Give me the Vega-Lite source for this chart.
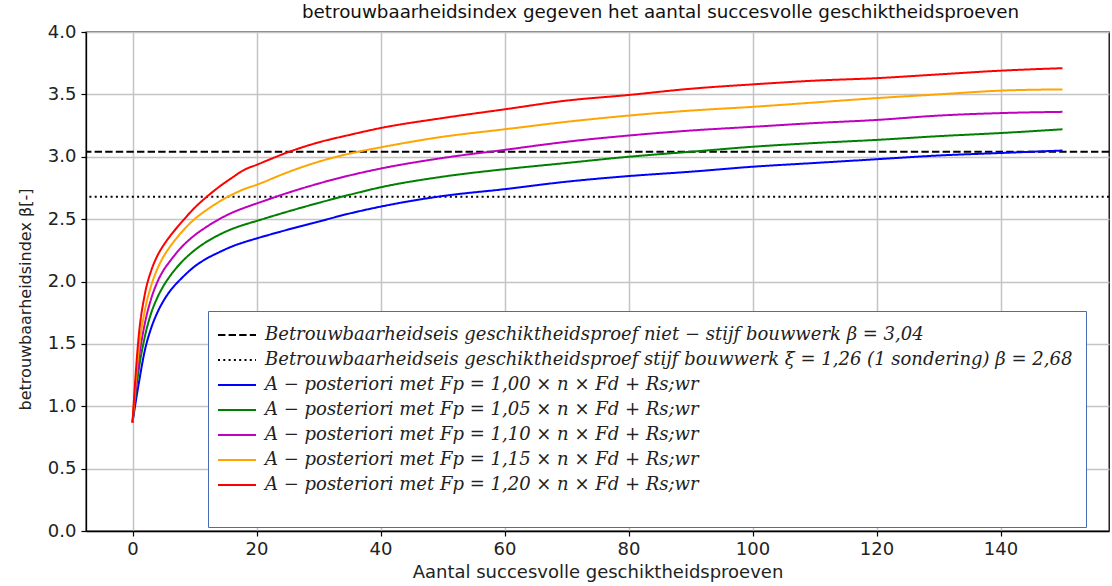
{
  "$schema": "https://vega.github.io/schema/vega-lite/v6.json",
  "width": 1023,
  "height": 499,
  "autosize": {"type": "none"},
  "padding": {"left": 86, "top": 32, "right": 3, "bottom": 55},
  "background": "white",
  "title": {
    "text": "betrouwbaarheidsindex gegeven het aantal succesvolle geschiktheidsproeven",
    "font": "DejaVu Sans",
    "fontSize": 18.3,
    "fontWeight": "normal",
    "color": "#111111",
    "anchor": "start",
    "frame": "group",
    "dx": 216,
    "offset": 1
  },
  "config": {
    "view": {"stroke": "#000000", "strokeWidth": 1.3},
    "axis": {
      "labelFont": "DejaVu Sans",
      "labelFontSize": 18,
      "labelColor": "#222222",
      "titleFont": "DejaVu Sans",
      "titleFontSize": 18,
      "titleFontWeight": "normal",
      "titleColor": "#222222",
      "domainColor": "#000000",
      "domainWidth": 1.3,
      "tickColor": "#000000",
      "tickWidth": 1.2,
      "tickSize": 5,
      "gridColor": "#c4c4c4",
      "gridWidth": 1.5
    }
  },
  "datasets": {
    "curves": [
      {"f": "1,00", "n": 0, "b": 0.87}, {"f": "1,00", "n": 1, "b": 1.18}, {"f": "1,00", "n": 2, "b": 1.45}, {"f": "1,00", "n": 3, "b": 1.625}, {"f": "1,00", "n": 4, "b": 1.75}, {"f": "1,00", "n": 5, "b": 1.845}, {"f": "1,00", "n": 6, "b": 1.92}, {"f": "1,00", "n": 8, "b": 2.03}, {"f": "1,00", "n": 10, "b": 2.12}, {"f": "1,00", "n": 12, "b": 2.185}, {"f": "1,00", "n": 14, "b": 2.235}, {"f": "1,00", "n": 16, "b": 2.28}, {"f": "1,00", "n": 18, "b": 2.315}, {"f": "1,00", "n": 20, "b": 2.345}, {"f": "1,00", "n": 25, "b": 2.415}, {"f": "1,00", "n": 30, "b": 2.48}, {"f": "1,00", "n": 35, "b": 2.545}, {"f": "1,00", "n": 40, "b": 2.6}, {"f": "1,00", "n": 50, "b": 2.685}, {"f": "1,00", "n": 60, "b": 2.74}, {"f": "1,00", "n": 70, "b": 2.8}, {"f": "1,00", "n": 80, "b": 2.845}, {"f": "1,00", "n": 90, "b": 2.88}, {"f": "1,00", "n": 100, "b": 2.92}, {"f": "1,00", "n": 110, "b": 2.95}, {"f": "1,00", "n": 120, "b": 2.98}, {"f": "1,00", "n": 130, "b": 3.01}, {"f": "1,00", "n": 140, "b": 3.03}, {"f": "1,00", "n": 150, "b": 3.05},
      {"f": "1,05", "n": 0, "b": 0.87}, {"f": "1,05", "n": 1, "b": 1.29}, {"f": "1,05", "n": 2, "b": 1.56}, {"f": "1,05", "n": 3, "b": 1.745}, {"f": "1,05", "n": 4, "b": 1.87}, {"f": "1,05", "n": 5, "b": 1.965}, {"f": "1,05", "n": 6, "b": 2.04}, {"f": "1,05", "n": 8, "b": 2.16}, {"f": "1,05", "n": 10, "b": 2.25}, {"f": "1,05", "n": 12, "b": 2.32}, {"f": "1,05", "n": 14, "b": 2.375}, {"f": "1,05", "n": 16, "b": 2.42}, {"f": "1,05", "n": 18, "b": 2.455}, {"f": "1,05", "n": 20, "b": 2.485}, {"f": "1,05", "n": 25, "b": 2.56}, {"f": "1,05", "n": 30, "b": 2.63}, {"f": "1,05", "n": 35, "b": 2.695}, {"f": "1,05", "n": 40, "b": 2.755}, {"f": "1,05", "n": 50, "b": 2.84}, {"f": "1,05", "n": 60, "b": 2.9}, {"f": "1,05", "n": 70, "b": 2.95}, {"f": "1,05", "n": 80, "b": 3.0}, {"f": "1,05", "n": 90, "b": 3.04}, {"f": "1,05", "n": 100, "b": 3.08}, {"f": "1,05", "n": 110, "b": 3.11}, {"f": "1,05", "n": 120, "b": 3.135}, {"f": "1,05", "n": 130, "b": 3.165}, {"f": "1,05", "n": 140, "b": 3.19}, {"f": "1,05", "n": 150, "b": 3.22},
      {"f": "1,10", "n": 0, "b": 0.87}, {"f": "1,10", "n": 1, "b": 1.37}, {"f": "1,10", "n": 2, "b": 1.665}, {"f": "1,10", "n": 3, "b": 1.86}, {"f": "1,10", "n": 4, "b": 1.995}, {"f": "1,10", "n": 5, "b": 2.09}, {"f": "1,10", "n": 6, "b": 2.16}, {"f": "1,10", "n": 8, "b": 2.28}, {"f": "1,10", "n": 10, "b": 2.37}, {"f": "1,10", "n": 12, "b": 2.44}, {"f": "1,10", "n": 14, "b": 2.5}, {"f": "1,10", "n": 16, "b": 2.55}, {"f": "1,10", "n": 18, "b": 2.59}, {"f": "1,10", "n": 20, "b": 2.625}, {"f": "1,10", "n": 25, "b": 2.71}, {"f": "1,10", "n": 30, "b": 2.785}, {"f": "1,10", "n": 35, "b": 2.85}, {"f": "1,10", "n": 40, "b": 2.905}, {"f": "1,10", "n": 50, "b": 2.99}, {"f": "1,10", "n": 60, "b": 3.055}, {"f": "1,10", "n": 70, "b": 3.12}, {"f": "1,10", "n": 80, "b": 3.17}, {"f": "1,10", "n": 90, "b": 3.21}, {"f": "1,10", "n": 100, "b": 3.24}, {"f": "1,10", "n": 110, "b": 3.27}, {"f": "1,10", "n": 120, "b": 3.295}, {"f": "1,10", "n": 130, "b": 3.33}, {"f": "1,10", "n": 140, "b": 3.35}, {"f": "1,10", "n": 150, "b": 3.36},
      {"f": "1,15", "n": 0, "b": 0.87}, {"f": "1,15", "n": 1, "b": 1.45}, {"f": "1,15", "n": 2, "b": 1.77}, {"f": "1,15", "n": 3, "b": 1.965}, {"f": "1,15", "n": 4, "b": 2.1}, {"f": "1,15", "n": 5, "b": 2.2}, {"f": "1,15", "n": 6, "b": 2.275}, {"f": "1,15", "n": 8, "b": 2.4}, {"f": "1,15", "n": 10, "b": 2.5}, {"f": "1,15", "n": 12, "b": 2.575}, {"f": "1,15", "n": 14, "b": 2.64}, {"f": "1,15", "n": 16, "b": 2.695}, {"f": "1,15", "n": 18, "b": 2.74}, {"f": "1,15", "n": 20, "b": 2.775}, {"f": "1,15", "n": 25, "b": 2.875}, {"f": "1,15", "n": 30, "b": 2.96}, {"f": "1,15", "n": 35, "b": 3.025}, {"f": "1,15", "n": 40, "b": 3.075}, {"f": "1,15", "n": 50, "b": 3.16}, {"f": "1,15", "n": 60, "b": 3.22}, {"f": "1,15", "n": 70, "b": 3.28}, {"f": "1,15", "n": 80, "b": 3.33}, {"f": "1,15", "n": 90, "b": 3.37}, {"f": "1,15", "n": 100, "b": 3.4}, {"f": "1,15", "n": 110, "b": 3.435}, {"f": "1,15", "n": 120, "b": 3.47}, {"f": "1,15", "n": 130, "b": 3.5}, {"f": "1,15", "n": 140, "b": 3.53}, {"f": "1,15", "n": 150, "b": 3.54},
      {"f": "1,20", "n": 0, "b": 0.87}, {"f": "1,20", "n": 1, "b": 1.56}, {"f": "1,20", "n": 2, "b": 1.9}, {"f": "1,20", "n": 3, "b": 2.085}, {"f": "1,20", "n": 4, "b": 2.205}, {"f": "1,20", "n": 5, "b": 2.29}, {"f": "1,20", "n": 6, "b": 2.36}, {"f": "1,20", "n": 8, "b": 2.48}, {"f": "1,20", "n": 10, "b": 2.59}, {"f": "1,20", "n": 12, "b": 2.68}, {"f": "1,20", "n": 14, "b": 2.76}, {"f": "1,20", "n": 16, "b": 2.83}, {"f": "1,20", "n": 18, "b": 2.895}, {"f": "1,20", "n": 20, "b": 2.935}, {"f": "1,20", "n": 25, "b": 3.035}, {"f": "1,20", "n": 30, "b": 3.115}, {"f": "1,20", "n": 35, "b": 3.175}, {"f": "1,20", "n": 40, "b": 3.23}, {"f": "1,20", "n": 50, "b": 3.31}, {"f": "1,20", "n": 60, "b": 3.38}, {"f": "1,20", "n": 70, "b": 3.45}, {"f": "1,20", "n": 80, "b": 3.495}, {"f": "1,20", "n": 90, "b": 3.545}, {"f": "1,20", "n": 100, "b": 3.58}, {"f": "1,20", "n": 110, "b": 3.61}, {"f": "1,20", "n": 120, "b": 3.63}, {"f": "1,20", "n": 130, "b": 3.66}, {"f": "1,20", "n": 140, "b": 3.69}, {"f": "1,20", "n": 150, "b": 3.71}
    ],
    "eisen": [
      {"f": "eis1", "b": 3.04},
      {"f": "eis2", "b": 2.68}
    ]
  },
  "encoding": {
    "color": {
      "field": "f",
      "type": "nominal",
      "scale": {
        "domain": ["eis1", "eis2", "1,00", "1,05", "1,10", "1,15", "1,20"],
        "range": ["#000000", "#000000", "#0000ff", "#008000", "#bf00bf", "#ffa500", "#ff0000"]
      },
      "legend": {
        "title": "                                                                                                                                          ",
        "titleOrient": "bottom",
        "titleFont": "DejaVu Sans",
        "titleFontSize": 20,
        "titlePadding": 0,
        "titleLimit": 2000,
        "orient": "none",
        "legendX": 122,
        "legendY": 279,
        "padding": 13,
        "fillColor": "#ffffff",
        "strokeColor": "#4a6cb3",
        "cornerRadius": 0,
        "symbolType": "M-1.4,0H2.4",
        "symbolSize": 400,
        "symbolStrokeWidth": 2,
        "labelOffset": 22,
        "rowPadding": 5,
        "labelFont": "DejaVu Serif",
        "labelFontStyle": "italic",
        "labelFontSize": 18,
        "labelColor": "#222222",
        "labelLimit": 1000,
        "labelExpr": "datum.label == 'eis1' ? 'Betrouwbaarheidseis geschiktheidsproef niet − stijf bouwwerk β = 3,04' : datum.label == 'eis2' ? 'Betrouwbaarheidseis geschiktheidsproef stijf bouwwerk ξ = 1,26 (1 sondering) β = 2,68' : 'A − posteriori met Fp = ' + datum.label + ' × n × Fd + Rs;wr'"
      }
    },
    "strokeDash": {
      "field": "f",
      "type": "nominal",
      "scale": {
        "domain": ["eis1", "eis2", "1,00", "1,05", "1,10", "1,15", "1,20"],
        "range": [[7.4, 3.2], [2, 3.3], [1, 0], [1, 0], [1, 0], [1, 0], [1, 0]]
      },
      "legend": {"title": "                                                                                                                                          "}
    }
  },
  "layer": [
    {
      "data": {"name": "eisen"},
      "mark": {"type": "rule", "strokeWidth": 2},
      "encoding": {
        "y": {"field": "b", "type": "quantitative"}
      }
    },
    {
      "data": {"name": "curves"},
      "mark": {"type": "line", "strokeWidth": 2, "interpolate": "monotone"},
      "encoding": {
        "x": {
          "field": "n",
          "type": "quantitative",
          "title": "Aantal succesvolle geschiktheidsproeven",
          "scale": {"domain": [-7.5, 157.5], "nice": false, "zero": false},
          "axis": {"values": [0, 20, 40, 60, 80, 100, 120, 140], "labelPadding": 4, "titlePadding": 5, "domain": true}
        },
        "y": {
          "field": "b",
          "type": "quantitative",
          "title": "betrouwbaarheidsindex β[-]",
          "scale": {"domain": [0, 4], "nice": false},
          "axis": {
            "values": [0, 0.5, 1, 1.5, 2, 2.5, 3, 3.5, 4],
            "format": ".1f",
            "labelPadding": 5,
            "titleFontSize": 16,
            "titleX": -61,
            "titleY": 267,
            "titleAlign": "center",
            "titleBaseline": "middle",
            "titleAngle": 270
          }
        }
      }
    }
  ]
}
